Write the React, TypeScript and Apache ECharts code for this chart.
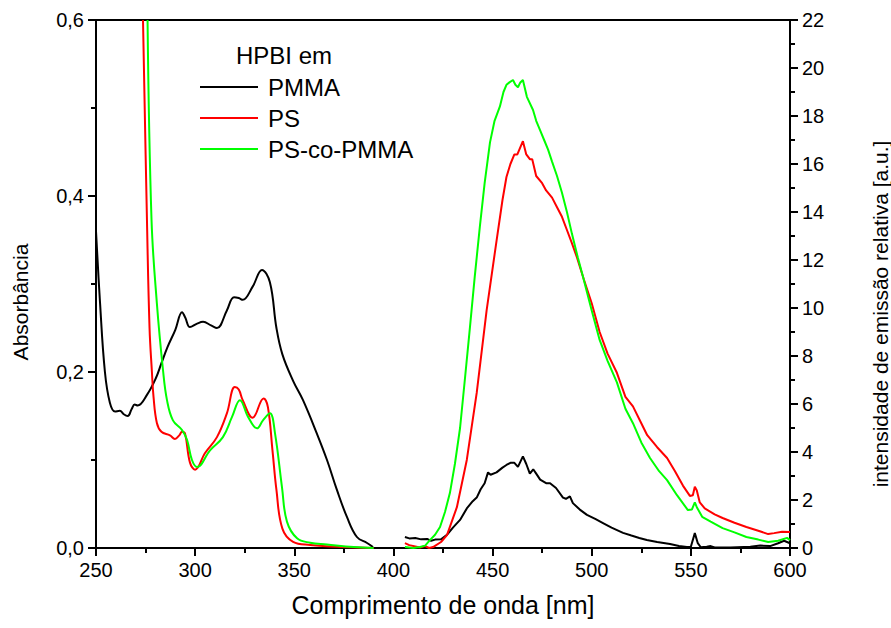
import React, { useEffect, useRef } from "react";
import * as echarts from "echarts";

// ---------- Absorbance (left axis) ----------
const pmmaAbsX = [250, 252, 254.5, 257, 259.6, 262, 264, 266, 268, 269.5, 271, 275.7, 280, 283, 286, 290, 293.4, 295, 297.4, 301, 304, 308, 311, 316, 319.6, 322, 324, 329, 333.7, 337.7, 341, 344, 349.4, 354.4, 361.4, 366.5, 371.5, 376.6, 381.6, 386.7, 389.7];
const pmmaAbsY = [0.36, 0.28, 0.2, 0.165, 0.155, 0.156, 0.152, 0.15, 0.158, 0.163, 0.162, 0.174, 0.192, 0.21, 0.228, 0.248, 0.268, 0.262, 0.251, 0.255, 0.257, 0.253, 0.25, 0.27, 0.285, 0.284, 0.282, 0.297, 0.316, 0.302, 0.25, 0.22, 0.19, 0.168, 0.13, 0.1, 0.066, 0.035, 0.0125, 0.0057, 0.001];

const psAbsX = [273.7, 275.7, 277, 278.2, 279, 280.7, 283, 287.3, 289.8, 292, 293.4, 294.9, 297.4, 300, 305, 311, 316, 320, 322, 324, 329, 334.5, 336.7, 339, 341, 344, 349.4, 358, 374.5, 390];
const psAbsY = [0.6, 0.373, 0.25, 0.2, 0.172, 0.142, 0.132, 0.128, 0.124, 0.128, 0.132, 0.13, 0.097, 0.089, 0.108, 0.126, 0.153, 0.183, 0.18, 0.168, 0.148, 0.17, 0.16, 0.111, 0.066, 0.022, 0.007, 0.0035, 0.001, 0.0];

const copAbsX = [276, 278, 280.7, 283.8, 285.8, 288.8, 293.4, 295.9, 298.4, 301, 307.5, 314, 318.6, 322.6, 326.7, 331.2, 334.2, 337.7, 340.3, 343.8, 346.3, 351.4, 358, 366.5, 380, 390];
const copAbsY = [0.6, 0.373, 0.278, 0.202, 0.168, 0.145, 0.134, 0.123, 0.1, 0.092, 0.111, 0.126, 0.149, 0.168, 0.149, 0.136, 0.145, 0.153, 0.13, 0.069, 0.03, 0.011, 0.006, 0.004, 0.001, 0.0];

// ---------- Emission (right axis) ----------
const pmmaEmX = [405.8, 408, 411, 414, 417, 419, 421, 424, 427, 430, 433.6, 437, 440, 442, 444, 446, 447.7, 449, 452, 455, 457, 459, 461, 462.8, 465.3, 467, 468.8, 470.5, 472, 474, 477, 479, 482, 485.5, 487, 489, 490.5, 494, 497.6, 502, 505.7, 510, 515.8, 520, 524, 527.8, 533, 539.5, 544, 548, 550, 552, 553.5, 555, 558, 560, 562, 570, 580, 585, 590, 594, 597, 600];
const pmmaEmY = [0.46, 0.4, 0.42, 0.36, 0.38, 0.3, 0.35, 0.36, 0.55, 0.85, 1.17, 1.65, 1.95, 2.1, 2.45, 2.7, 3.15, 3.05, 3.15, 3.35, 3.46, 3.55, 3.55, 3.38, 3.82, 3.5, 3.1, 3.28, 3.1, 2.85, 2.7, 2.7, 2.5, 2.1, 2.05, 2.15, 1.87, 1.6, 1.38, 1.2, 1.04, 0.85, 0.63, 0.52, 0.42, 0.33, 0.25, 0.17, 0.08, 0.04, 0.05, 0.62, 0.2, 0.03, 0.05, 0.08, 0.02, 0.02, 0.05, 0.1, 0.08, 0.2, 0.3, 0.2];

const psEmX = [405.8, 408, 413.4, 416, 418, 420, 424, 427, 432, 437, 442, 447, 452, 455, 457, 459, 461, 462.5, 465.3, 467, 468.8, 470, 472, 475, 477, 480, 482.5, 485, 487.5, 490, 492.6, 496, 500, 504, 508, 512.7, 517, 520.8, 525, 528, 533, 538, 542, 546, 549.5, 551, 552, 553, 554.5, 557, 562, 566, 572, 578, 584, 589, 592, 596, 600];
const psEmY = [0.2, 0.12, 0.02, 0.08, 0.0, 0.04, 0.25, 0.54, 1.7, 3.67, 6.46, 9.9, 12.8, 14.5, 15.46, 16.0, 16.4, 16.4, 16.95, 16.4, 16.2, 16.2, 15.5, 15.2, 14.9, 14.6, 14.2, 13.8, 13.25, 12.7, 12.1, 11.2, 10.2, 9.0, 8.1, 7.3, 6.3, 5.9, 5.2, 4.7, 4.2, 3.75, 3.2, 2.6, 2.17, 2.2, 2.55, 2.4, 1.9, 1.65, 1.4, 1.25, 1.05, 0.875, 0.72, 0.58, 0.62, 0.68, 0.67];

const copEmX = [405.8, 410, 413.4, 416, 418.4, 421, 423.5, 426, 428.5, 431, 433.6, 436, 438.6, 441, 443.6, 446, 448.7, 451, 453.7, 455.5, 457, 458.5, 460.3, 461.5, 462.8, 464, 465.3, 467.3, 470.4, 472, 474, 476, 478, 480, 482.5, 485, 487.5, 490, 493, 495.6, 500, 504, 508, 512.7, 517, 520.8, 525, 529.4, 534, 538, 543, 548.5, 550.5, 552, 553, 555.7, 560, 566, 572, 578, 584, 589, 594, 598.5, 600];
const copEmY = [0.04, 0.0, 0.04, 0.1, 0.33, 0.55, 0.875, 1.5, 2.3, 3.5, 5.0, 7.0, 9.2, 11.3, 13.4, 15.2, 16.9, 17.8, 18.4, 19.0, 19.3, 19.4, 19.5, 19.3, 19.2, 19.4, 19.5, 18.8, 18.25, 17.8, 17.4, 17.0, 16.6, 16.1, 15.5, 14.8, 14.0, 13.1, 12.1, 11.3, 9.9, 8.67, 7.8, 6.9, 5.8, 5.2, 4.4, 3.75, 3.2, 2.83, 2.2, 1.58, 1.6, 1.9, 1.7, 1.3, 1.1, 0.83, 0.65, 0.46, 0.35, 0.25, 0.3, 0.42, 0.33];

const legendNames = ["PMMA", "PS", "PS-co-PMMA"];
const colors = ["#000000", "#ff0000", "#00ff00"];
const xTicks = { min: 250, max: 600, interval: 50 };
const leftTicks = { min: 0, max: 0.6, interval: 0.2 };
const rightTicks = { min: 0, max: 22, interval: 2 };

const zip = (xs: number[], ys: number[]) => xs.map((x, i) => [x, ys[i]]);

const FONT = "Arial, 'Liberation Sans', sans-serif";

export default function App() {
  const ref = useRef<HTMLDivElement>(null);
  useEffect(() => {
    if (!ref.current) return;
    const chart = echarts.init(ref.current, undefined, { renderer: "svg" });
    const line = (name: string, ci: number, data: number[][], yAxisIndex: number, smooth: number | boolean) => ({
      type: "line",
      name,
      data,
      yAxisIndex,
      smooth,
      showSymbol: false,
      symbol: "none",
      clip: true,
      lineStyle: { color: colors[ci], width: 2 },
      itemStyle: { color: colors[ci] },
    });
    const axisCommon = {
      axisLine: { show: true, onZero: false, lineStyle: { color: "#000", width: 2 } },
      axisTick: { show: true, inside: false, length: 8, lineStyle: { color: "#000", width: 2 } },
      minorTick: { show: true, splitNumber: 2, length: 5, lineStyle: { color: "#000", width: 2 } },
      splitLine: { show: false },
      axisLabel: { color: "#000", fontSize: 20, fontFamily: FONT },
    };
    chart.setOption({
      animation: false,
      backgroundColor: "#fff",
      grid: { left: 96, right: 101, top: 20, bottom: 80, show: true, borderColor: "#000", borderWidth: 2, backgroundColor: "transparent" },
      legend: {
        data: legendNames.map((n) => ({ name: n, icon: "rect" })),
        orient: "vertical",
        left: 200,
        top: 75,
        padding: 0,
        itemWidth: 58,
        itemHeight: 2,
        itemGap: 7,
        selectedMode: false,
        textStyle: { color: "#000", fontSize: 24, fontFamily: FONT, lineHeight: 24, padding: [0, 0, 0, 5] },
      },
      xAxis: {
        type: "value",
        ...xTicks,
        ...axisCommon,
        axisLabel: { ...axisCommon.axisLabel, margin: 12 },
      },
      yAxis: [
        {
          type: "value",
          position: "left",
          ...leftTicks,
          ...axisCommon,
          axisLabel: { ...axisCommon.axisLabel, margin: 12, formatter: (v: number) => v.toFixed(1).replace(".", ",") },
        },
        {
          type: "value",
          position: "right",
          ...rightTicks,
          ...axisCommon,
          axisLabel: { ...axisCommon.axisLabel, margin: 12 },
        },
      ],
      graphic: [
        { type: "text", x: 236, y: 55, style: { text: "HPBI em", fill: "#000", font: `24px ${FONT}`, textAlign: "left", textVerticalAlign: "middle" } },
        { type: "text", x: 443, y: 605, style: { text: "Comprimento de onda [nm]", fill: "#000", font: `25px ${FONT}`, textAlign: "center", textVerticalAlign: "middle" } },
        { type: "text", x: 20, y: 302, rotation: Math.PI / 2, style: { text: "Absorbância", fill: "#000", font: `21px ${FONT}`, textAlign: "center", textVerticalAlign: "middle" } },
        { type: "text", x: 880, y: 314, rotation: Math.PI / 2, style: { text: "intensidade de emissão relativa [a.u.]", fill: "#000", font: `21px ${FONT}`, textAlign: "center", textVerticalAlign: "middle" } },
      ],
      series: [
        line("PMMA", 0, zip(pmmaAbsX, pmmaAbsY), 0, 0.4),
        line("PS", 1, zip(psAbsX, psAbsY), 0, 0.4),
        line("PS-co-PMMA", 2, zip(copAbsX, copAbsY), 0, 0.4),
        line("PMMA", 0, zip(pmmaEmX, pmmaEmY), 1, false),
        line("PS", 1, zip(psEmX, psEmY), 1, false),
        line("PS-co-PMMA", 2, zip(copEmX, copEmY), 1, false),
      ],
    });
    return () => chart.dispose();
  }, []);
  return <div ref={ref} style={{ position: "fixed", left: 0, top: 0, width: 891, height: 628, background: "#fff" }} />;
}
